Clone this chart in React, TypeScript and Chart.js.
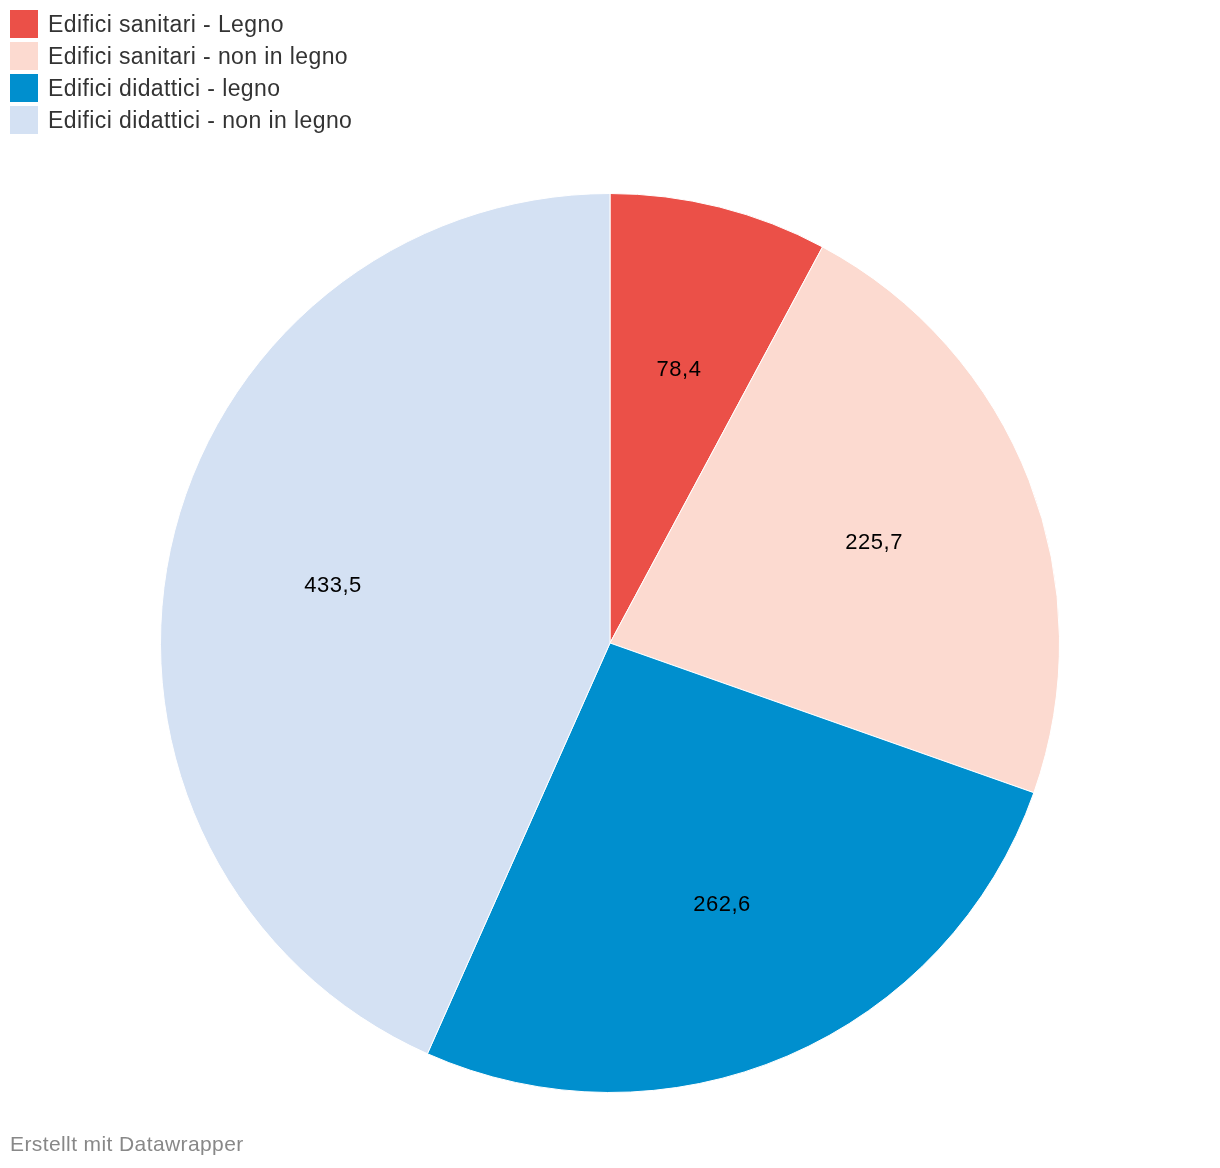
import React, { useEffect, useRef } from "react";
import { Chart, registerables } from "chart.js";

Chart.register(...registerables);

const categories = [
  "Edifici sanitari - Legno",
  "Edifici sanitari - non in legno",
  "Edifici didattici - legno",
  "Edifici didattici - non in legno",
];
const values = [78.4, 225.7, 262.6, 433.5];
const colors = ["#eb5048", "#fcdad0", "#008fce", "#d4e1f3"];
const footerText = "Erstellt mit Datawrapper";

const FONT = '"Liberation Sans", Arial, sans-serif';

const labelPlugin = {
  id: "sliceLabels",
  afterDatasetsDraw(chart: any) {
    const ctx = chart.ctx;
    const meta = chart.getDatasetMeta(0);
    ctx.save();
    ctx.font = `22px ${FONT}`;
    (ctx as any).letterSpacing = "0.5px";
    ctx.fillStyle = "#000";
    ctx.textAlign = "center";
    ctx.textBaseline = "middle";
    meta.data.forEach((arc: any, i: number) => {
      const p = arc.getProps(["x", "y", "startAngle", "endAngle", "outerRadius"], true);
      const mid = (p.startAngle + p.endAngle) / 2;
      const r = p.outerRadius * 0.63;
      const x = p.x + Math.cos(mid) * r;
      const y = p.y + Math.sin(mid) * r + 2;
      ctx.fillText(values[i].toFixed(1).replace(".", ","), x, y);
    });
    ctx.restore();
  },
};

export default function App() {
  const ref = useRef<HTMLCanvasElement>(null);
  useEffect(() => {
    document.body.style.margin = "0";
    const chart = new Chart(ref.current!, {
      type: "pie",
      data: {
        labels: categories,
        datasets: [
          {
            data: values,
            backgroundColor: colors,
            borderColor: "#ffffff",
            borderWidth: 1,
          },
        ],
      },
      options: {
        responsive: false,
        animation: false,
        layout: { padding: { top: 193, bottom: 75, left: 160, right: 160 } },
        plugins: {
          legend: { display: false },
          tooltip: { enabled: false },
        },
      },
      plugins: [labelPlugin],
    });
    return () => chart.destroy();
  }, []);

  return (
    <div style={{ position: "relative", width: 1220, height: 1168, background: "#fff", fontFamily: FONT }}>
      <canvas ref={ref} width={1220} height={1168} style={{ position: "absolute", left: 0, top: 0 }} />
      <div style={{ position: "absolute", left: 10, top: 10 }}>
        {categories.map((c, i) => (
          <div key={c} style={{ display: "flex", alignItems: "center", height: 28, marginBottom: 4 }}>
            <div style={{ width: 28, height: 28, background: colors[i], marginRight: 10 }} />
            <span style={{ fontSize: 23, letterSpacing: "0.4px", color: "#333", lineHeight: "28px" }}>{c}</span>
          </div>
        ))}
      </div>
      <div style={{ position: "absolute", left: 10, top: 1131, fontSize: 21, letterSpacing: "0.4px", color: "#888", lineHeight: "26px" }}>
        {footerText}
      </div>
    </div>
  );
}
